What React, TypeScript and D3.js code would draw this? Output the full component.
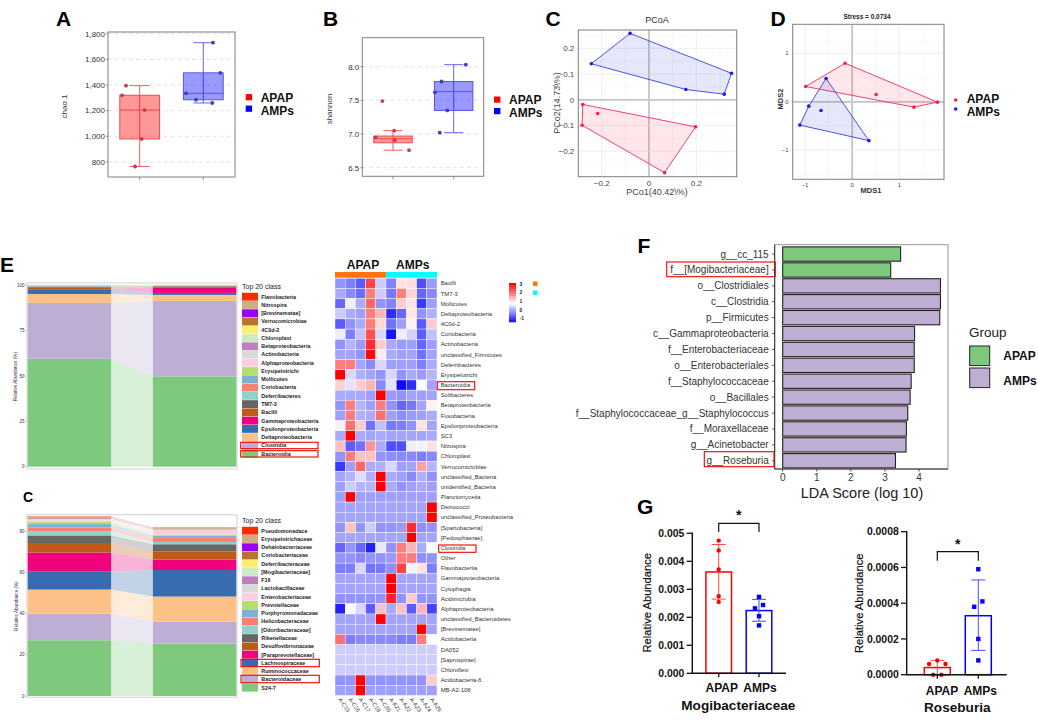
import React from "react";
import * as d3 from "d3";

const FONT = "'Liberation Sans', Arial, sans-serif";
const RED = "#ff0000";
const BLUE = "#0000ff";

// ---------- A / B box plots
const groups = ["APAP", "AMPs"];
const chaoValues = [[1395, 1320, 1205, 980, 765], [1730, 1495, 1335, 1285, 1260]];
const chaoJitter = [[-0.215, -0.277, 0.079, 0.031, -0.073], [0.152, 0.267, -0.272, -0.115, 0.141]];
const chaoStats = [[980, 1205, 1320, 765, 1395], [1285, 1335, 1495, 1260, 1730]];
const chaoTicks = [800, 1000, 1200, 1400, 1600, 1800];
const shannonValues = [[7.49, 7.05, 6.95, 6.91, 6.76], [8.03, 7.78, 7.62, 7.35, 7.02]];
const shannonJitter = [[-0.175, 0.02, -0.285, 0.03, 0.264], [0.2, -0.2, -0.31, -0.105, -0.23]];
const shannonStats = [[6.87, 6.93, 6.97, 6.76, 7.05], [7.35, 7.63, 7.78, 7.02, 8.03]];
const shannonTicks = [6.5, 7.0, 7.5, 8.0];

// ---------- C / D ordinations
const pcoaRed: [number, number][] = [[-0.28, -0.018], [-0.283, -0.099], [-0.217, -0.053], [0.197, -0.105], [0.066, -0.283]];
const pcoaBlue: [number, number][] = [[-0.08, 0.258], [-0.244, 0.14], [0.349, 0.103], [0.318, 0.022], [0.156, 0.04]];
const nmdsRed: [number, number][] = [[-0.149, 0.795], [-0.986, 0.315], [0.51, 0.15], [1.81, -0.007], [1.31, -0.11]];
const nmdsBlue: [number, number][] = [[-0.553, 0.48], [-0.92, -0.09], [-0.66, -0.18], [-1.11, -0.48], [0.355, -0.8]];

// ---------- E stacks (bottom to top)
const stackColors = ["#7FC97F", "#BEAED4", "#FDC086", "#386CB0", "#F0027F", "#BF5B17", "#666666", "#8DD3C7", "#FB8072", "#80B1D3", "#B3DE69", "#FCCDE5", "#D9D9D9", "#BC80BD", "#CCEBC5", "#FFED6F", "#B8732F", "#9900FF", "#CCAE7F", "#FF2A00"];
const classNames = ["Bacteroidia", "Clostridia", "Deltaproteobacteria", "Epsilonproteobacteria", "Gammaproteobacteria", "Bacilli", "TM7-3", "Deferribacteres", "Coriobacteria", "Mollicutes", "Erysipelotrichi", "Alphaproteobacteria", "Actinobacteria", "Betaproteobacteria", "Chloroplast", "4C0d-2", "Verrucomicrobiae", "[Brevinematae]", "Nitrospira", "Flavobacteria"];
const classAPAP = [59.5, 30.8, 4.9, 2.6, 0.15, 1.0, 0.35, 0.05, 0.05, 0.05, 0.05, 0.05, 0.1, 0.05, 0.05, 0.05, 0.05, 0.02, 0.2, 0.03];
const classAMPs = [49.8, 41.6, 3.3, 1.1, 3.1, 0.4, 0.2, 0.05, 0.05, 0.05, 0.05, 0.05, 0.05, 0.05, 0.05, 0.05, 0.05, 0.02, 0.1, 0.03];
const familyNames = ["S24-7", "Bacteroidaceae", "Ruminococcaceae", "Lachnospiraceae", "[Paraprevotellaceae]", "Desulfovibrionaceae", "Rikenellaceae", "[Odoribacteraceae]", "Helicobacteraceae", "Porphyromonadaceae", "Prevotellaceae", "Enterobacteriaceae", "Lactobacillaceae", "F16", "[Mogibacteriaceae]", "Deferribacteraceae", "Coriobacteriaceae", "Dehalobacteriaceae", "Erysipelotrichaceae", "Pseudomonadace"];
const familyAPAP = [27.1, 12.9, 11.7, 8.7, 9.3, 4.6, 3.7, 2.0, 1.9, 1.6, 1.0, 0.7, 0.3, 0.2, 0.2, 0.2, 0.2, 0.1, 0.6, 0.2];
const familyAMPs = [25.5, 10.7, 12.1, 12.9, 5.1, 3.9, 3.5, 1.1, 2.0, 1.1, 0.5, 1.8, 0.5, 0.1, 0.1, 0.1, 0.1, 0.1, 0.4, 0.2];
const stackTicksClass = [0, 25, 50, 75, 100];
const stackTicksFamily = [0, 20, 40, 60, 80];

// ---------- Heatmap
const hmColumns = ["A-C15", "A-C16", "A-C17", "A-C18", "A-C20", "A-A21", "A-A22", "A-A23", "A-A24", "A-A26"];
const hmRows = ["Bacilli", "TM7-3", "Mollicutes", "Deltaproteobacteria", "4C0d-2", "Coriobacteria", "Actinobacteria", "unclassified_Firmicutes", "Deferribacteres", "Erysipelotrichi", "Bacteroidia", "Solibacteres", "Betaproteobacteria", "Fusobacteria", "Epsilonproteobacteria", "SC3", "Nitrospira", "Chloroplast", "Verrucomicrobiae", "unclassified_Bacteria", "unidentified_Bacteria", "Planctomycetia", "Deinococci", "unclassified_Proteobacteria", "[Spartobacteria]", "[Pedosphaerae]", "Clostridia", "Other", "Flavobacteriia", "Gammaproteobacteria", "Cytophagia", "Acidimicrobia", "Alphaproteobacteria", "unclassified_Bacteroidetes", "[Brevinematae]", "Acidobacteria", "DA052", "[Saprospirae]", "Chloroflexi", "Acidobacteria-6", "MB-A2-108"];
const hmValues = [
  [-0.2, -0.4, -0.7, 2.4, 0.3, -0.35, 1.0, 1.05, -0.8, -0.15],
  [0, -0.3, -0.55, 1.9, 0.3, -0.45, 1.9, 1.1, -0.6, -0.3],
  [-0.6, 0.6, 0, 2.1, -0.2, -0.35, 1.2, 1.0, -1.0, -0.1],
  [0.3, 0, -0.1, 1.9, 1.4, -1.1, -0.6, 0.95, -0.2, 0.05],
  [-0.7, -0.2, 0, 1.9, 1.1, -0.5, -0.1, 0.85, -0.7, 1.2],
  [0.6, -0.4, 0.2, 2.3, 0.4, -1.3, 0.6, 0.35, -0.7, 0.2],
  [-0.2, 0.1, -0.15, 2.6, 1.2, 0, -0.15, -0.1, -0.6, -0.1],
  [-0.05, -0.05, -0.2, 2.9, 0.9, 0, -0.1, -0.05, -0.5, -0.05],
  [1.9, 1.9, -0.05, -0.3, 0.4, -0.1, -0.1, -0.1, -0.4, 0],
  [3, 0.4, 0.05, -0.05, -0.2, 0.4, -0.2, 0, -0.15, 0.1],
  [1.15, 0.5, 1.2, 1.4, -0.3, 0.5, -1.4, -1.1, 0.75, -0.05],
  [0, 0, 0, -0.1, 3, -0.15, -0.2, -0.05, -0.1, -0.05],
  [-0.2, 1.9, 0.1, -0.1, 1.9, -0.2, -0.6, -0.45, -0.05, 0.85],
  [-0.1, 1.9, 0.05, 0, 2, -0.1, -0.25, -0.15, -0.1, 0],
  [0.65, 2, 1.2, -0.5, 0.2, -0.45, -0.4, -0.2, 1.0, -0.05],
  [0, 3, 0, -0.05, 0, -0.05, -0.05, -0.05, -0.05, 0],
  [1.3, -0.7, -0.5, 1.7, 0, -0.8, -0.8, 0.6, 0.65, 1.0],
  [-0.2, 1.9, 1.3, 1.3, -0.2, -0.25, -0.3, -0.3, -0.4, -0.3],
  [-1.0, -0.1, 2.1, 0, 0.05, 0.4, -0.1, -0.05, 1.6, 0.1],
  [-0.05, 0.1, 0.45, 0.05, 3, 0, -0.1, -0.3, 0.05, -0.2],
  [-0.1, 0.3, 0.1, 0.1, 3, 0, -0.2, -0.1, 0, -0.1],
  [-0.1, 3, -0.1, -0.1, -0.1, -0.1, -0.1, -0.1, -0.1, -0.1],
  [-0.05, -0.05, -0.05, -0.05, -0.05, -0.05, -0.05, -0.05, -0.05, 3],
  [-0.05, -0.05, -0.05, -0.05, -0.05, -0.05, -0.05, -0.05, -0.05, 3],
  [-0.2, 1.3, -0.2, 0.3, -0.2, -0.2, -0.15, 2.6, -0.25, -0.2],
  [-0.05, -0.05, -0.05, -0.05, -0.05, -0.05, -0.05, 3, -0.05, -0.05],
  [-0.6, -0.2, -0.6, -1.2, 0.55, -0.2, 1.9, 1.4, 0, 0.75],
  [-0.2, -0.2, -0.3, -0.2, -0.2, -0.15, 1.9, 1.9, -0.25, -0.2],
  [-0.4, -0.4, 0.4, -0.5, -0.45, -0.25, 2.4, 0.65, 1.0, -0.4],
  [-0.05, -0.05, -0.05, -0.05, -0.05, 3, -0.05, -0.05, -0.05, -0.05],
  [-0.05, -0.05, -0.05, -0.05, -0.05, 3, -0.05, -0.05, -0.05, -0.05],
  [-0.2, -0.2, -0.2, -0.2, -0.2, 2.7, -0.2, 1.2, -0.2, -0.2],
  [-1.2, 0.8, 0.4, -0.7, 1.3, 0, 1.3, -0.7, 1.4, -0.9],
  [-0.05, -0.05, -0.05, -0.05, 3, -0.05, -0.05, -0.05, -0.05, -0.05],
  [-0.05, -0.05, -0.05, -0.05, -0.05, -0.05, -0.05, -0.05, 3, -0.05],
  [2, -0.4, -0.3, -0.3, -0.3, -0.3, -0.4, -0.4, 1.9, 0.75],
  [0.3, 0.3, 0.3, 0.3, 0.3, 0.3, 0.3, 0.3, 0.3, 0.3],
  [0.3, 0.3, 0.3, 0.3, 0.3, 0.3, 0.3, 0.3, 0.3, 0.3],
  [0.3, 0.3, 0.3, 0.3, 0.3, 0.3, 0.3, 0.3, 0.3, 0.3],
  [-0.2, -0.2, 3, -0.2, -0.2, -0.2, -0.2, -0.2, -0.2, 1.2],
  [-0.1, -0.1, 3, -0.1, -0.1, -0.1, -0.1, -0.1, -0.1, -0.1],
];
const hmLegendTicks = [3, 2, 1, 0, -1];

// ---------- F LDA
const ldaNames = ["g__cc_115", "f__[Mogibacteriaceae]", "o__Clostridiales", "c__Clostridia", "p__Firmicutes", "c__Gammaproteobacteria", "f__Enterobacteriaceae", "o__Enterobacteriales", "f__Staphylococcaceae", "o__Bacillales", "f__Staphylococcaceae_g__Staphylococcus", "f__Moraxellaceae", "g__Acinetobacter", "g__Roseburia"];
const ldaScores = [3.46, 3.17, 4.63, 4.63, 4.61, 3.87, 3.86, 3.86, 3.77, 3.74, 3.67, 3.63, 3.62, 3.31];
const ldaGroups = [0, 0, 1, 1, 1, 1, 1, 1, 1, 1, 1, 1, 1, 1];
const ldaTicks = [0, 1, 2, 3, 4];

// ---------- G bars
const mogiMeans = [0.00362, 0.00224];
const mogiErrLow = [0.00265, 0.00186];
const mogiErrHigh = [0.0046, 0.00264];
const mogiPoints = [[0.00474, 0.00439, 0.00371, 0.00275, 0.00255], [0.00273, 0.00244, 0.00232, 0.00204, 0.00171]];
const mogiJitter = [[0, 0, 0, 0, 0], [0, 0.1, -0.1, 0, 0]];
const mogiTicks = [0, 0.001, 0.002, 0.003, 0.004, 0.005];
const roseMeans = [0.00004, 0.00033];
const roseErrLow = [0, 0.000136];
const roseErrHigh = [0.00008, 0.00053];
const rosePoints = [[0.00008, 0.00006, 0.00006, 0, 0], [0.00059, 0.00041, 0.00038, 0.0002, 0.00008]];
const roseJitter = [[0, -0.2, 0.2, -0.1, 0.1], [0, 0.1, -0.1, 0, 0]];
const roseTicks = [0, 0.0002, 0.0004, 0.0006, 0.0008];

const T = (p: any) => <text fontFamily={FONT} {...p} />;

function PanelLetter({ x, y, t, size = 21 }: any) {
  return <T x={x} y={y} fontSize={size} fontWeight="bold" fill="#000">{t}</T>;
}

function SquareLegend({ x, y }: any) {
  return <g>
    {groups.map((g, i) => <g key={g}>
      <rect x={x} y={y + i * 11.5 - 3.2} width={6.4} height={6.2} fill={i ? BLUE : RED} />
      <T x={x + 15} y={y + i * 13.2} dy=".36em" fontSize={12} fontWeight="bold" fill="#111">{g}</T>
    </g>)}
  </g>;
}

function BoxPanel({ box, yDomainPx, values, jitter, stats, ticks, fmt, xc, boxHalf, capHalf, title, titleX }: any) {
  const y = d3.scaleLinear().domain(yDomainPx.domain).range(yDomainPx.range);
  const x = d3.scaleOrdinal<number, number>().domain([0, 1]).range(xc);
  const step = xc[1] - xc[0];
  const fills = ["rgba(255,0,0,0.4)", "rgba(0,0,255,0.4)"];
  const strokes = ["#ee4a4a", "#5555e8"];
  const dots = ["#c43c44", "#3c3cc0"];
  return <g>
    {ticks.map((t: number) => <line key={t} x1={box[0]} x2={box[2]} y1={y(t)} y2={y(t)} stroke="#dcdcdc" strokeWidth={0.9} strokeDasharray="3.5 3.5" />)}
    {stats.map((s: number[], i: number) => {
      const c = x(i);
      return <g key={i}>
        <line x1={c} x2={c} y1={y(s[3])} y2={y(s[4])} stroke={strokes[i]} strokeWidth={0.9} />
        <line x1={c - capHalf} x2={c + capHalf} y1={y(s[3])} y2={y(s[3])} stroke={strokes[i]} strokeWidth={0.9} />
        <line x1={c - capHalf} x2={c + capHalf} y1={y(s[4])} y2={y(s[4])} stroke={strokes[i]} strokeWidth={0.9} />
        <rect x={c - boxHalf} width={boxHalf * 2} y={y(s[2])} height={y(s[0]) - y(s[2])} fill={fills[i]} stroke={strokes[i]} strokeWidth={1} />
        <line x1={c - boxHalf} x2={c + boxHalf} y1={y(s[1])} y2={y(s[1])} stroke={strokes[i]} strokeWidth={1} />
      </g>;
    })}
    {values.map((vs: number[], i: number) => vs.map((v, j) =>
      <circle key={`${i}-${j}`} cx={x(i) + jitter[i][j] * step} cy={y(v)} r={1.9} fill={dots[i]} />))}
    <rect x={box[0]} y={box[1]} width={box[2] - box[0]} height={box[3] - box[1]} fill="none" stroke="#7f7f7f" strokeWidth={1} />
    {ticks.map((t: number) => <g key={t}>
      <line x1={box[0] - 2} x2={box[0]} y1={y(t)} y2={y(t)} stroke="#555" strokeWidth={0.6} />
      <T x={box[0] - 3} y={y(t)} dy=".35em" textAnchor="end" fontSize={8} fill="#333">{fmt(t)}</T>
    </g>)}
    {xc.map((c: number) => <line key={c} x1={c} x2={c} y1={box[3]} y2={box[3] + 3} stroke="#555" strokeWidth={0.6} />)}
    <T transform={`translate(${titleX},${(box[1] + box[3]) / 2 + 2}) rotate(-90)`} textAnchor="middle" fontSize={8} fill="#333">{title}</T>
  </g>;
}

function Ordination({ box, sx, sy, major, minorX, minorY, xTicks, yTicks, red, blue, tickSize, r }: any) {
  const line = (pts: [number, number][]) => {
    const h = d3.polygonHull(pts)!;
    return d3.line().x((d: any) => sx(d[0])).y((d: any) => sy(d[1])).curve(d3.curveLinearClosed)(h as any)!;
  };
  const RC = "#f0436f", BC = "#4a52e6";
  return <g>
    {minorX.map((v: number) => <line key={"mx" + v} x1={sx(v)} x2={sx(v)} y1={box[1]} y2={box[3]} stroke="#f1f1f1" strokeWidth={0.6} />)}
    {minorY.map((v: number) => <line key={"my" + v} x1={box[0]} x2={box[2]} y1={sy(v)} y2={sy(v)} stroke="#f1f1f1" strokeWidth={0.6} />)}
    {xTicks.map((v: number) => <line key={"x" + v} x1={sx(v)} x2={sx(v)} y1={box[1]} y2={box[3]} stroke={v === 0 ? "#c4c4c4" : "#e8e8e8"} strokeWidth={v === 0 ? 1.8 : 0.7} />)}
    {yTicks.map((v: number) => <line key={"y" + v} x1={box[0]} x2={box[2]} y1={sy(v)} y2={sy(v)} stroke={v === 0 ? "#c4c4c4" : "#e8e8e8"} strokeWidth={v === 0 ? 1.8 : 0.7} />)}
    <path d={line(red)} fill="rgba(255,60,90,0.12)" stroke={RC} strokeWidth={1} />
    <path d={line(blue)} fill="rgba(60,60,220,0.12)" stroke={BC} strokeWidth={1} />
    {red.map((p: number[], i: number) => <circle key={i} cx={sx(p[0])} cy={sy(p[1])} r={r} fill="#ff1a4a" />)}
    {blue.map((p: number[], i: number) => <circle key={i} cx={sx(p[0])} cy={sy(p[1])} r={r} fill="#1a1aee" />)}
    <rect x={box[0]} y={box[1]} width={box[2] - box[0]} height={box[3] - box[1]} fill="none" stroke="#7f7f7f" strokeWidth={1} />
    {xTicks.map((v: number) => <T key={v} x={sx(v)} y={box[3] + tickSize + 1.5} textAnchor="middle" fontSize={tickSize} fill="#444">{v === 0 ? "0" : major(v)}</T>)}
    {yTicks.map((v: number) => <T key={v} x={box[0] - 4} y={sy(v)} dy=".35em" textAnchor="end" fontSize={tickSize} fill="#444">{v === 0 ? "0" : major(v)}</T>)}
  </g>;
}

function StackPanel({ box, yRange, yDomain, a, b, ticks, titleY, titleX }: any) {
  const y = d3.scaleLinear().domain(yDomain).range(yRange);
  const x = d3.scaleLinear().domain([0, 1]).range([box[0] + 0.7, box[2] - 0.7]);
  const rows = [0, 1].map((g) => Object.fromEntries(a.map((_: number, i: number) => ["s" + i, g ? b[i] : a[i]])));
  const stacked = d3.stack().keys(a.map((_: number, i: number) => "s" + i))(rows as any);
  const area = d3.area<any>().x((d) => d[0]).y0((d) => y(d[1])).y1((d) => y(d[2]));
  const w = x(1) - x(0);
  const barW = 0.4 * w;
  return <g>
    <rect x={box[0]} y={box[1]} width={box[2] - box[0]} height={box[3] - box[1]} fill="#fff" stroke="#d8d8d8" strokeWidth={1.2} />
    {stacked.map((s: any, i: number) => {
      const [l, r] = [s[0], s[1]];
      const pts: any = [[x(0) + barW, l[0], l[1]], [x(1) - barW, r[0], r[1]]];
      return <g key={i}>
        <rect x={x(0)} width={barW} y={y(l[1])} height={y(l[0]) - y(l[1])} fill={stackColors[i]} />
        <rect x={x(1) - barW} width={barW} y={y(r[1])} height={y(r[0]) - y(r[1])} fill={stackColors[i]} />
        <path d={area(pts)!} fill={stackColors[i]} opacity={0.3} />
      </g>;
    })}
    {ticks.map((t: number) => <g key={t}>
      <line x1={box[0] - 1.5} x2={box[0]} y1={y(t)} y2={y(t)} stroke="#888" strokeWidth={0.4} />
      <T x={box[0] - 2.5} y={y(t)} dy=".35em" textAnchor="end" fontSize={4.5} fill="#333">{t}</T>
    </g>)}
    <T transform={`translate(${titleX},${titleY}) rotate(-90)`} textAnchor="middle" fontSize={4.6} fill="#333">Relative Abundance (%)</T>
  </g>;
}

function StackLegend({ names, y0, step, titleY }: any) {
  const n = names.length;
  return <g>
    <T x={242} y={titleY} dy=".35em" fontSize={7} fill="#222">Top 20 class</T>
    {names.map((nm: string, i: number) => {
      const yy = y0 + (n - 1 - i) * step;
      return <g key={nm}>
        <rect x={242} y={yy - step / 2 + 0.2} width={16} height={step - 0.4} fill={stackColors[i]} />
        <T x={261.3} y={yy} dy=".35em" fontSize={5.4} fontWeight="bold" fill="#222">{nm}</T>
      </g>;
    })}
  </g>;
}

function RedBox({ x0, y0, x1, y1, w = 1.1 }: any) {
  return <rect x={x0} y={y0} width={x1 - x0} height={y1 - y0} fill="none" stroke="#f00000" strokeWidth={w} />;
}

function Heatmap() {
  const x = d3.scaleBand().domain(hmColumns).range([335, 437]);
  const y = d3.scaleBand().domain(hmRows).range([278.2, 695.4]);
  const color = d3.scaleLinear<string>().domain([-1.5, 0.75, 3]).range(["#0000ff", "#ffffff", "#ff0000"]);
  const barY = d3.scaleLinear().domain([3, -1.5]).range([283, 322]);
  const legendSteps = d3.range(3, -1.5, -0.25);
  return <g>
    <T x={363} y={264.4} dy=".36em" textAnchor="middle" fontSize={12} fontWeight="bold" fill="#111">APAP</T>
    <T x={412.7} y={264.4} dy=".36em" textAnchor="middle" fontSize={12} fontWeight="bold" fill="#111">AMPs</T>
    <rect x={335} y={272} width={x.bandwidth() * 5} height={5.7} fill="#ff7410" />
    <rect x={335 + x.bandwidth() * 5} y={272} width={x.bandwidth() * 5} height={5.7} fill="#00ffff" />
    {hmValues.map((row, r) => row.map((v, c) =>
      <rect key={`${r}-${c}`} x={x(hmColumns[c])} y={y(hmRows[r])} width={x.bandwidth()} height={y.bandwidth()} fill={color(v)} stroke="#ffffff" strokeWidth={0.4} />))}
    {hmRows.map((n) => <T key={n} x={440.7} y={y(n)! + y.bandwidth() / 2} dy=".35em" fontSize={5.9} fill="#333">{n}</T>)}
    {hmColumns.map((n) => <T key={n} transform={`translate(${x(n)! + x.bandwidth() / 2 - 2},${699.5}) rotate(55)`} fontSize={5.6} fill="#333">{n}</T>)}
    {legendSteps.map((v) => <rect key={v} x={509} y={barY(v)} width={7} height={barY(2.75) - barY(3) + 0.3} fill={color(v)} />)}
    {hmLegendTicks.map((t) => <T key={t} x={519.5} y={barY(t) + 1} dy=".35em" fontSize={5} fontWeight="bold" fill="#222">{t}</T>)}
    <rect x={533} y={281.5} width={4.5} height={4.5} fill="#ff7410" />
    <rect x={533} y={290.5} width={4.5} height={4.5} fill="#00ffff" />
    <RedBox x0={437.3} y0={381.7} x1={474.7} y1={389.7} />
    <RedBox x0={438.7} y0={545} x1={476} y1={552.3} />
  </g>;
}

function Lda() {
  const box = [774.7, 244.7, 948, 469];
  const x = d3.scaleLinear().domain([0, 4]).range([782.7, 919]);
  const y = d3.scaleBand().domain(ldaNames).range([246.1, 468.7]).paddingInner(0.1).paddingOuter(0.05);
  const c = ["#7FC97F", "#BEAED4"];
  return <g>
    {ldaNames.map((n, i) => <g key={n}>
      <rect x={x(0)} y={y(n)} width={x(ldaScores[i]) - x(0)} height={y.bandwidth()} fill={c[ldaGroups[i]]} stroke="#222" strokeWidth={1.1} />
      <line x1={box[0] - 2.5} x2={box[0]} y1={y(n)! + y.bandwidth() / 2} y2={y(n)! + y.bandwidth() / 2} stroke="#222" strokeWidth={0.8} />
      <T x={768.7} y={y(n)! + y.bandwidth() / 2} dy=".35em" textAnchor="end" fontSize={10} fill="#333">{n}</T>
    </g>)}
    <rect x={box[0]} y={box[1]} width={box[2] - box[0]} height={box[3] - box[1]} fill="none" stroke="#8a8a8a" strokeWidth={0.9} />
    <line x1={box[0]} x2={box[0]} y1={box[1]} y2={box[3]} stroke="#222" strokeWidth={0.9} />
    <line x1={box[0]} x2={box[2]} y1={box[3]} y2={box[3]} stroke="#222" strokeWidth={0.9} />
    {ldaTicks.map((t) => <g key={t}>
      <line x1={x(t)} x2={x(t)} y1={box[3]} y2={box[3] + 2.5} stroke="#222" strokeWidth={0.8} />
      <T x={x(t)} y={481} textAnchor="middle" fontSize={10} fill="#333">{t}</T>
    </g>)}
    <T x={862} y={493} dy=".35em" textAnchor="middle" fontSize={14.5} fill="#222">LDA Score (log 10)</T>
    <T x={969} y={332} dy=".35em" fontSize={13.5} fill="#222">Group</T>
    {[0, 1].map((g) => <rect key={g} x={969.7} y={346 + g * 22} width={20} height={19.6} fill={c[g]} stroke="#222" strokeWidth={1} />)}
    <T x={1003.3} y={356} dy=".36em" fontSize={12} fontWeight="bold" fill="#111">APAP</T>
    <T x={1003.3} y={381} dy=".36em" fontSize={12} fontWeight="bold" fill="#111">AMPs</T>
    <RedBox x0={666.7} y0={262} x1={775.3} y1={276.7} />
    <RedBox x0={704.3} y0={451.7} x1={774} y1={466.7} />
  </g>;
}

function BarPanel({ axisX, axisEnd, yDom, yRange, xc, halfW, means, low, high, points, jitter, ticks, fmt, titleX, title, titleY, labelXs, labelY, nameY, nameX, nameSize, bracket }: any) {
  const y = d3.scaleLinear().domain(yDom).range(yRange);
  const cols = [RED, BLUE];
  const colsErr = ["#ff4a4a", "#4a4aff"];
  const step = xc[1] - xc[0];
  return <g>
    {means.map((m: number, i: number) => <g key={i}>
      <rect x={xc[i] - halfW} width={halfW * 2} y={y(m)} height={y(0) - y(m)} fill="none" stroke={cols[i]} strokeWidth={1.5} />
      <line x1={xc[i]} x2={xc[i]} y1={y(low[i])} y2={y(high[i])} stroke={colsErr[i]} strokeWidth={1} />
      <line x1={xc[i] - 7} x2={xc[i] + 7} y1={y(low[i])} y2={y(low[i])} stroke={colsErr[i]} strokeWidth={1} />
      <line x1={xc[i] - 7} x2={xc[i] + 7} y1={y(high[i])} y2={y(high[i])} stroke={colsErr[i]} strokeWidth={1} />
      {points[i].map((v: number, j: number) => i === 0
        ? <circle key={j} cx={xc[i] + jitter[i][j] * step} cy={y(v)} r={2.2} fill={RED} />
        : <rect key={j} x={xc[i] + jitter[i][j] * step - 2.2} y={y(v) - 2.2} width={4.4} height={4.4} fill={BLUE} />)}
      <line x1={xc[i]} x2={xc[i]} y1={y(0)} y2={y(0) + 4} stroke="#111" strokeWidth={1.3} />
      <T x={labelXs[i]} y={labelY} dy=".36em" textAnchor="middle" fontSize={12} fontWeight="bold" fill="#111">{groups[i]}</T>
    </g>)}
    <line x1={axisX} x2={axisX} y1={y(yDom[1]) - 0.7} y2={y(0) + 0.7} stroke="#111" strokeWidth={1.4} />
    <line x1={axisX} x2={axisEnd} y1={y(0)} y2={y(0)} stroke="#111" strokeWidth={1.4} />
    {ticks.map((t: number) => <g key={t}>
      <line x1={axisX - 5.7} x2={axisX} y1={y(t)} y2={y(t)} stroke="#111" strokeWidth={1.3} />
      <T x={axisX - 8} y={y(t)} dy=".36em" textAnchor="end" fontSize={10.4} fontWeight="bold" fill="#111">{fmt(t)}</T>
    </g>)}
    <T transform={`translate(${titleX},${titleY}) rotate(-90)`} dy=".36em" textAnchor="middle" fontSize={11.2} stroke="#111" strokeWidth={0.2} fill="#111">Relative Abundance</T>
    <T x={nameX} y={nameY} dy=".36em" textAnchor="middle" fontSize={nameSize} fontWeight="bold" fill="#111">{title}</T>
    <path d={`M${xc[0]},${bracket[1]}V${bracket[0]}H${xc[1]}V${bracket[1]}`} fill="none" stroke="#111" strokeWidth={1.2} />
    <T x={(xc[0] + xc[1]) / 2} y={bracket[0] - 3} textAnchor="middle" fontSize={14} fontWeight="bold" fill="#111">*</T>
  </g>;
}

export default function App() {
  const comma = d3.format(",");
  const pcoaX = d3.scaleLinear().domain([-0.2, 0.2]).range([601.7, 696.3]);
  const pcoaY = d3.scaleLinear().domain([-0.2, 0.2]).range([151.3, 48.3]);
  const nmdsX = d3.scaleLinear().domain([-1, 1]).range([805, 899.3]);
  const nmdsY = d3.scaleLinear().domain([-1, 1]).range([150.3, 53.3]);
  return (
    <svg width={1038} height={720} viewBox="0 0 1038 720" style={{ position: "absolute", left: 0, top: 0, background: "#fff", display: "block" }}>
      <PanelLetter x={56} y={26} t="A" />
      <PanelLetter x={323} y={26} t="B" />
      <PanelLetter x={545.5} y={26} t="C" />
      <PanelLetter x={770.5} y={26} t="D" />
      <PanelLetter x={0} y={272} t="E" />
      <PanelLetter x={23} y={502} t="C" size={14} />
      <PanelLetter x={637.5} y={252.7} t="F" />
      <PanelLetter x={637} y={514} t="G" />

      <BoxPanel box={[108, 32, 235, 177]} yDomainPx={{ domain: [800, 1800], range: [162, 33.7] }} values={chaoValues} jitter={chaoJitter} stats={chaoStats} ticks={chaoTicks} fmt={comma} xc={[139.7, 203.3]} boxHalf={19.9} capHalf={10} title="chao 1" titleX={67} />
      <SquareLegend x={245.7} y={97.3} />
      <BoxPanel box={[362.3, 37.7, 483.7, 176.3]} yDomainPx={{ domain: [6.5, 8], range: [167.7, 66.7] }} values={shannonValues} jitter={shannonJitter} stats={shannonStats} ticks={shannonTicks} fmt={d3.format(".1f")} xc={[393, 453.7]} boxHalf={19.2} capHalf={9.6} title="shannon" titleX={332} />
      <SquareLegend x={494} y={99.7} />

      <T x={657} y={20} dy=".35em" textAnchor="middle" fontSize={9} fill="#333">PCoA</T>
      <Ordination box={[578.3, 30, 736.7, 176.7]} sx={pcoaX} sy={pcoaY} major={d3.format(".1f")} minorX={[-0.3, -0.1, 0.1, 0.3]} minorY={[-0.25, -0.15, -0.05, 0.05, 0.15, 0.25]} xTicks={[-0.2, 0, 0.2]} yTicks={[-0.2, -0.1, 0, 0.1, 0.2]} red={pcoaRed} blue={pcoaBlue} tickSize={8} r={1.8} />
      <T x={657} y={192} dy=".35em" textAnchor="middle" fontSize={9} fill="#444">PCo1(40.42\%)</T>
      <T transform="translate(556.7,103) rotate(-90)" dy=".35em" textAnchor="middle" fontSize={9} fill="#444">PCo2(14.73\%)</T>

      <T x={867} y={17} dy=".35em" textAnchor="middle" fontSize={6.5} fontWeight="bold" fill="#222">Stress = 0.0734</T>
      <Ordination box={[792.7, 24.3, 944, 179.3]} sx={nmdsX} sy={nmdsY} major={d3.format("d")} minorX={[-0.5, 0.5, 1.5]} minorY={[-1.5, -0.5, 0.5, 1.25]} xTicks={[-1, 0, 1]} yTicks={[-1, 0, 1]} red={nmdsRed} blue={nmdsBlue} tickSize={6} r={1.8} />
      <T x={871} y={190} dy=".35em" textAnchor="middle" fontSize={7.5} fontWeight="bold" fill="#333">MDS1</T>
      <T transform="translate(780,99) rotate(-90)" dy=".35em" textAnchor="middle" fontSize={7.5} fontWeight="bold" fill="#333">MDS2</T>
      {groups.map((g, i) => <g key={g}>
        <circle cx={955.7} cy={100 + i * 9} r={1.8} fill={i ? "#1a1aee" : "#ff1a4a"} />
        <T x={966.7} y={99 + i * 13} dy=".36em" fontSize={12} fontWeight="bold" fill="#111">{g}</T>
      </g>)}

      <StackPanel box={[27, 283, 237, 469]} yRange={[466.7, 285.3]} yDomain={[0, 100]} a={classAPAP} b={classAMPs} ticks={stackTicksClass} titleX={16.5} titleY={376.7} />
      <StackLegend names={classNames} y0={296.7} step={8.263} titleY={286.3} />
      <RedBox x0={240.7} y0={442.3} x1={318} y1={448.7} />
      <RedBox x0={240.7} y0={450.7} x1={318} y1={457} />

      <StackPanel box={[27, 514.7, 237, 697.3]} yRange={[696, 531.3]} yDomain={[0, 80]} a={familyAPAP} b={familyAMPs} ticks={stackTicksFamily} titleX={18} titleY={606} />
      <StackLegend names={familyNames} y0={530.7} step={8.263} titleY={520.3} />
      <RedBox x0={241} y0={659.3} x1={319.3} y1={666.7} />
      <RedBox x0={241} y0={675.3} x1={319.3} y1={682.7} />

      <Heatmap />
      <Lda />

      <BarPanel axisX={692.3} axisEnd={786} yDom={[0, 0.005]} yRange={[673.3, 533.3]} xc={[718.7, 759]} halfW={12.8} means={mogiMeans} low={mogiErrLow} high={mogiErrHigh} points={mogiPoints} jitter={mogiJitter} ticks={mogiTicks} fmt={d3.format(".3f")} titleX={647.3} titleY={602.7} title="Mogibacteriaceae" labelXs={[721.7, 760]} labelY={687.3} nameX={738.3} nameY={705.3} nameSize={13.6} bracket={[523.3, 532]} />
      <BarPanel axisX={906.7} axisEnd={1006.7} yDom={[0, 0.0008]} yRange={[674.7, 531.7]} xc={[937.3, 978.3]} halfW={13} means={roseMeans} low={roseErrLow} high={roseErrHigh} points={rosePoints} jitter={roseJitter} ticks={roseTicks} fmt={d3.format(".4f")} titleX={858.7} titleY={603.3} title="Roseburia" labelXs={[942, 980.3]} labelY={690.7} nameX={957.3} nameY={707.3} nameSize={13.6} bracket={[551.7, 560.7]} />
    </svg>
  );
}
